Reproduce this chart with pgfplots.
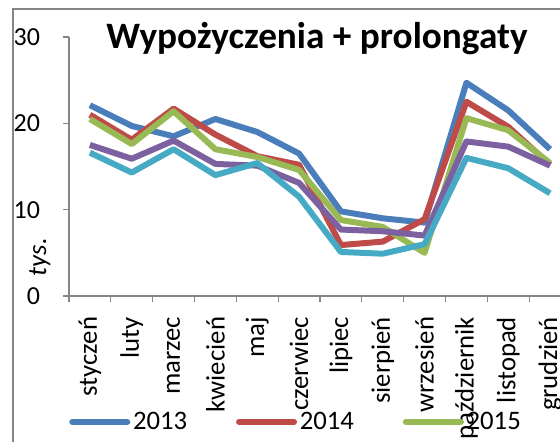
\documentclass[border=0pt]{standalone}
\usepackage{fontspec}
\setmainfont{Carlito}
\usepackage{pgfplots}
\pgfplotsset{compat=1.18}

\definecolor{s13}{HTML}{4A7EBB}
\definecolor{s14}{HTML}{BE4B48}
\definecolor{s15}{HTML}{98B954}
\definecolor{s16}{HTML}{7D60A0}
\definecolor{s17}{HTML}{46AAC5}
\definecolor{axgray}{HTML}{868686}

% 1px of the reference = 0.025cm
\begin{document}
\begin{tikzpicture}
\begin{axis}[
    at={(1.725cm,-7.4cm)}, anchor=south west,
    scale only axis,
    width=12.55cm, height=6.475cm,
    xmin=-0.5, xmax=11.5,
    ymin=0, ymax=30,
    axis x line*=bottom, axis y line*=left,
    axis line style={axgray, line width=0.03cm, -},
    tick style={axgray, line width=0.03cm},
    tick align=outside,
    major tick length=0.15cm,
    ytick={0,10,20,30},
    xtick={-0.5,0.5,...,11.5},
    xticklabels={},
    extra x ticks={0,1,2,3,4,5,6,7,8,9,10,11},
    extra x tick labels={styczeń,luty,marzec,kwiecień,maj,czerwiec,lipiec,sierpień,wrzesień,październik,listopad,grudzień},
    extra x tick style={major tick length=0pt,
        xticklabel style={yshift=-0.4cm, rotate=90, anchor=east,
            font=\fontsize{19}{19}\selectfont}},
    /pgf/number format/assume math mode=true,
    yticklabel style={xshift=-0.45cm, font=\fontsize{18.5}{18.5}\selectfont},
    title={\textbf{Wypożyczenia + prolongaty}},
    title style={at={(rel axis cs:0.494,0.961)}, anchor=base, yshift=-0.25cm,
        font=\fontsize{26.5}{26.5}\selectfont},
    ylabel={\textit{tys.}},
    ylabel style={at={(rel axis cs:-0.058,0.15)}, anchor=center,
        font=\fontsize{19}{19}\selectfont},
    legend columns=3,
    legend style={at={(rel axis cs:0,-0.486)}, anchor=west,
        draw=none, fill=none, inner sep=0pt,
        font=\fontsize{19}{19}\selectfont,
        /tikz/every even column/.append style={column sep=1.15cm}},
    legend image code/.code={\draw[#1, line width=0.15cm, line cap=round] (0cm,0cm) -- (1.375cm,0cm);},
    every axis plot/.append style={line width=0.15cm, line join=round},
    clip=false,
]
\addplot[s13] coordinates {
    (0,22.1) (1,19.7) (2,18.5) (3,20.5) (4,19.0) (5,16.5)
    (6,9.8) (7,9.0) (8,8.5) (9,24.7) (10,21.5) (11,17.0)
};
\addplot[s14] coordinates {
    (0,21.0) (1,18.1) (2,21.7) (3,18.7) (4,16.2) (5,15.2)
    (6,5.9) (7,6.3) (8,8.9) (9,22.5) (10,19.6) (11,15.2)
};
\addplot[s15] coordinates {
    (0,20.5) (1,17.6) (2,21.4) (3,17.0) (4,16.1) (5,14.6)
    (6,8.8) (7,8.0) (8,5.0) (9,20.6) (10,19.2) (11,15.4)
};
\addplot[s16, forget plot] coordinates {
    (0,17.5) (1,15.9) (2,18.0) (3,15.3) (4,15.1) (5,13.1)
    (6,7.7) (7,7.5) (8,7.0) (9,17.9) (10,17.3) (11,15.1)
};
\addplot[s17, forget plot] coordinates {
    (0,16.6) (1,14.3) (2,17.0) (3,14.0) (4,15.4) (5,11.5)
    (6,5.1) (7,4.9) (8,6.0) (9,16.0) (10,14.8) (11,11.9)
};
\legend{2013,2014,2015}
\end{axis}
\draw[axgray, line width=0.04cm] (0.325cm,-11.2cm) -- (0.325cm,-0.225cm) -- (14.2cm,-0.225cm);
\pgfresetboundingbox
\path[use as bounding box] (0,0) rectangle (14cm,-11.025cm);
\end{tikzpicture}
\end{document}
